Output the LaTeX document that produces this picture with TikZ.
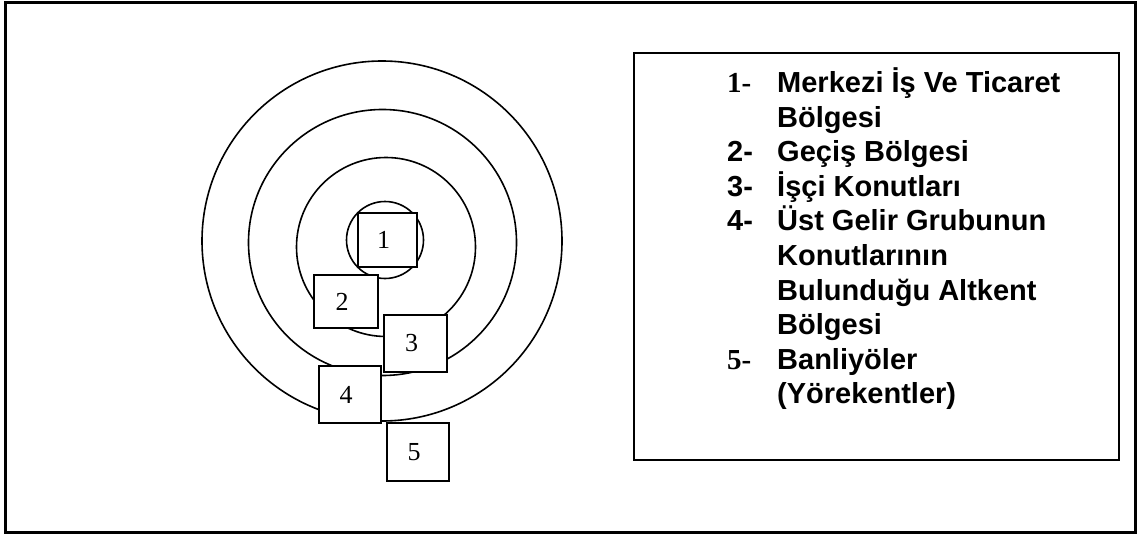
\documentclass[tikz,border=0pt]{standalone}
\usepackage{fontspec}
\setmainfont{Liberation Serif}
\setsansfont{Liberation Sans}
\usetikzlibrary{positioning}

\begin{document}
\begin{tikzpicture}[
    x=1pt, y=-1pt,
    ring/.style    = {draw, line width=1.6pt},
    zone/.style    = {draw, fill=white, line width=1.9pt, inner sep=0pt,
                      font=\fontsize{26}{30}\selectfont,
                      execute at begin node={\hspace*{-8pt}}},
    legnum/.style  = {anchor=base west, inner sep=0pt,
                      font=\bfseries\fontsize{29}{34}\selectfont},
    legsnum/.style = {legnum, font=\sffamily\bfseries\fontsize{29}{34}\selectfont},
    legtxt/.style  = {anchor=base west, inner sep=0pt,
                      font=\sffamily\bfseries\fontsize{29}{34}\selectfont},
  ]
  \useasboundingbox (0,0) rectangle (1138,535);

  %% Outer frame
  \draw[line width=3pt] (5,3) rectangle (1135,532);

  %% Rings of the city
  \draw[ring] (382,241) circle[radius=180];
  \draw[ring] (382.5,242.5) circle[x radius=134, y radius=133];
  \draw[ring] (386,247) circle[radius=89.5];
  \draw[ring] (385,240) circle[radius=38.5];

  %% Zone boxes
  \node[zone, minimum width=59, minimum height=54] (z1) at (387.5,240)   {1};
  \node[zone, minimum width=64, minimum height=53] (z2) at (346,301.5)   {2};
  \node[zone, minimum width=63, minimum height=57] (z3) at (415.5,343.5) {3};
  \node[zone, minimum width=62, minimum height=57] (z4) at (350,394.5)   {4};
  \node[zone, minimum width=62, minimum height=58] (z5) at (418,452)     {5};

  %% Legend
  \node[draw, line width=2pt, anchor=north west, minimum width=485,
        minimum height=407] (legend) at (633,52) {};

  \node[legnum]  (n1)  at (727,92.5)  {1-};
  \node[legtxt]  (t1)  at (777,92.5)  {Merkezi İş Ve Ticaret};
  \node[legtxt]  (t1b) at (777,127.1) {Bölgesi};
  \node[legsnum] (n2)  at (727,161.7) {2-};
  \node[legtxt]  (t2)  at (777,161.7) {Geçiş Bölgesi};
  \node[legsnum] (n3)  at (727,196.3) {3-};
  \node[legtxt]  (t3)  at (777,196.3) {İşçi Konutları};
  \node[legsnum] (n4)  at (727,230.9) {4-};
  \node[legtxt]  (t4)  at (777,230.9) {Üst Gelir Grubunun};
  \node[legtxt]  (t4b) at (777,265.5) {Konutlarının};
  \node[legtxt]  (t4c) at (777,300.1) {Bulunduğu Altkent};
  \node[legtxt]  (t4d) at (777,334.7) {Bölgesi};
  \node[legnum]  (n5)  at (727,369.3) {5-};
  \node[legtxt]  (t5)  at (777,369.3) {Banliyöler};
  \node[legtxt]  (t5b) at (777,403.9) {(Yörekentler)};

\end{tikzpicture}
\end{document}
